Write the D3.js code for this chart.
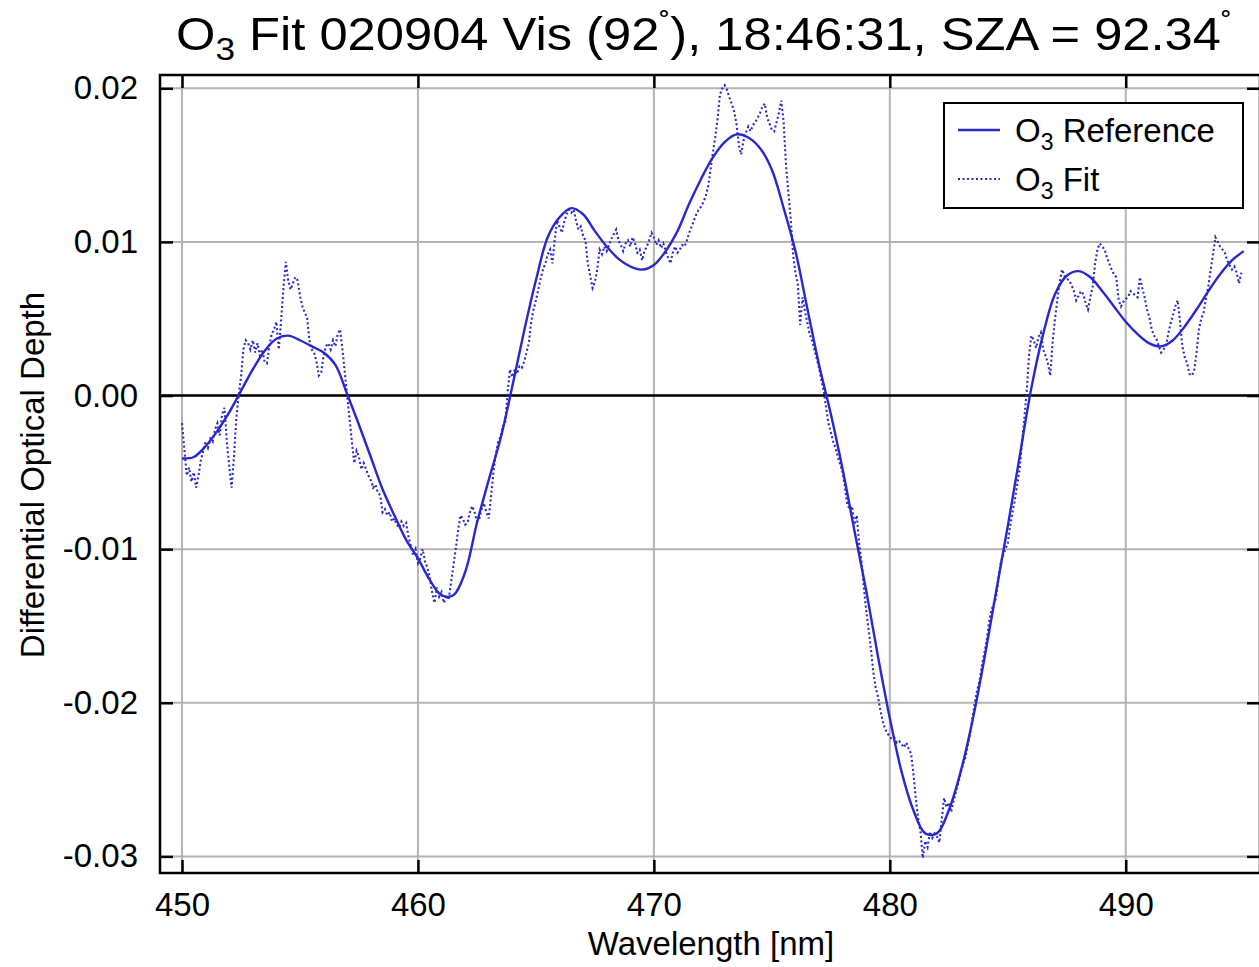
<!DOCTYPE html>
<html>
<head>
<meta charset="utf-8">
<script src="https://cdn.jsdelivr.net/npm/d3@7/dist/d3.min.js"></script>
<style>
  html, body { margin: 0; padding: 0; background: #fff; }
  svg { display: block; font-family: "Liberation Sans", Arial, Helvetica, sans-serif; }
</style>
</head>
<body>
<svg id="chart" width="1259" height="967"></svg>
<script>
// ---------------- data ----------------
const xTicks = [450, 460, 470, 480, 490];
const yTicks = [-0.03, -0.02, -0.01, 0.00, 0.01, 0.02];
const yTickLabels = ["-0.03", "-0.02", "-0.01", "0.00", "0.01", "0.02"];

// O3 reference (smooth), sampled every 0.5 nm
const refWavelength = [
  450.0,450.5,451.0,451.5,452.0,452.5,453.0,453.5,454.0,454.5,
  455.0,455.5,456.0,456.5,457.0,457.5,458.0,458.5,459.0,459.5,
  460.0,460.5,461.0,461.5,462.0,462.5,463.0,463.5,464.0,464.5,
  465.0,465.5,466.0,466.5,467.0,467.5,468.0,468.5,469.0,469.5,
  470.0,470.5,471.0,471.5,472.0,472.5,473.0,473.5,474.0,474.5,
  475.0,475.5,476.0,476.5,477.0,477.5,478.0,478.5,479.0,479.5,
  480.0,480.5,481.0,481.5,482.0,482.5,483.0,483.5,484.0,484.5,
  485.0,485.5,486.0,486.5,487.0,487.5,488.0,488.5,489.0,489.5,
  490.0,490.5,491.0,491.5,492.0,492.5,493.0,493.5,494.0,494.5,495.0];
const refValue = [
  -0.0041,-0.0040,-0.0033,-0.0023,-0.0011,0.0003,0.0017,0.0029,0.0037,0.0039,
  0.0036,0.0032,0.0028,0.0020,0.0001,-0.0019,-0.0040,-0.0061,-0.0078,-0.0094,
  -0.0106,-0.0120,-0.0130,-0.0130,-0.0115,-0.0083,-0.0055,-0.0028,0.0006,0.0042,
  0.0075,0.0103,0.0116,0.0122,0.0118,0.0107,0.0097,0.0089,0.0084,0.0082,
  0.0085,0.0094,0.0107,0.0125,0.0141,0.0155,0.0165,0.0170,0.0168,0.0161,
  0.0147,0.0122,0.0094,0.0057,0.0020,-0.0012,-0.0048,-0.0088,-0.0127,-0.0170,
  -0.0210,-0.0245,-0.0270,-0.0285,-0.0285,-0.0270,-0.0245,-0.0212,-0.0172,-0.0128,
  -0.0085,-0.0040,0.0005,0.0040,0.0066,0.0078,0.0081,0.0077,0.0068,0.0058,
  0.0048,0.0040,0.0034,0.0032,0.0036,0.0045,0.0056,0.0068,0.0079,0.0088,0.0094];

// O3 fit (noisy), sampled every 0.1 nm from 450.0 nm
const fitStart = 450.0;
const fitStep = 0.1;
const fitValue = [
  -0.0018,-0.0035,-0.0052,-0.0047,-0.0056,-0.0050,-0.0060,-0.0052,-0.0042,-0.0036,
  -0.0030,-0.0034,-0.0028,-0.0030,-0.0022,-0.0018,-0.0026,-0.0012,-0.0008,-0.0030,
  -0.0046,-0.0060,-0.0040,-0.0015,0.0000,0.0012,0.0030,0.0036,0.0034,0.0030,
  0.0036,0.0028,0.0034,0.0026,0.0030,0.0022,0.0021,0.0032,0.0040,0.0043,
  0.0048,0.0030,0.0049,0.0070,0.0087,0.0075,0.0069,0.0073,0.0077,0.0075,
  0.0065,0.0058,0.0054,0.0051,0.0036,0.0030,0.0028,0.0022,0.0013,0.0015,
  0.0026,0.0032,0.0034,0.0030,0.0036,0.0032,0.0040,0.0043,0.0030,0.0015,
  0.0000,-0.0015,-0.0030,-0.0044,-0.0036,-0.0040,-0.0048,-0.0044,-0.0048,-0.0052,
  -0.0055,-0.0060,-0.0058,-0.0063,-0.0065,-0.0076,-0.0074,-0.0078,-0.0076,-0.0082,
  -0.0080,-0.0084,-0.0086,-0.0082,-0.0085,-0.0083,-0.0092,-0.0098,-0.0104,-0.0100,
  -0.0109,-0.0106,-0.0100,-0.0108,-0.0112,-0.0118,-0.0128,-0.0135,-0.0125,-0.0131,
  -0.0128,-0.0135,-0.0130,-0.0133,-0.0122,-0.0111,-0.0100,-0.0088,-0.0078,-0.0080,
  -0.0084,-0.0083,-0.0076,-0.0072,-0.0076,-0.0082,-0.0080,-0.0074,-0.0070,-0.0076,
  -0.0080,-0.0065,-0.0050,-0.0038,-0.0030,-0.0027,-0.0020,-0.0018,0.0002,0.0017,
  0.0012,0.0017,0.0014,0.0019,0.0018,0.0022,0.0028,0.0034,0.0048,0.0056,
  0.0062,0.0069,0.0076,0.0082,0.0086,0.0092,0.0095,0.0086,0.0102,0.0114,
  0.0110,0.0106,0.0113,0.0118,0.0121,0.0119,0.0121,0.0114,0.0108,0.0110,
  0.0104,0.0101,0.0086,0.0078,0.0070,0.0074,0.0082,0.0095,0.0092,0.0097,
  0.0094,0.0098,0.0102,0.0105,0.0108,0.0101,0.0098,0.0094,0.0099,0.0101,
  0.0097,0.0103,0.0099,0.0093,0.0095,0.0088,0.0094,0.0097,0.0101,0.0106,
  0.0103,0.0098,0.0101,0.0096,0.0099,0.0094,0.0090,0.0086,0.0093,0.0097,
  0.0093,0.0095,0.0098,0.0097,0.0101,0.0106,0.0110,0.0114,0.0118,0.0121,
  0.0123,0.0126,0.0130,0.0136,0.0147,0.0158,0.0168,0.0180,0.0196,0.0200,
  0.0202,0.0199,0.0194,0.0190,0.0185,0.0177,0.0163,0.0157,0.0166,0.0171,
  0.0175,0.0172,0.0176,0.0178,0.0181,0.0184,0.0188,0.0190,0.0181,0.0177,
  0.0173,0.0172,0.0178,0.0184,0.0192,0.0178,0.0150,0.0132,0.0115,0.0092,
  0.0080,0.0073,0.0046,0.0064,0.0055,0.0048,0.0040,0.0036,0.0030,0.0024,
  0.0018,0.0010,0.0003,-0.0008,-0.0018,-0.0024,-0.0030,-0.0034,-0.0040,-0.0045,
  -0.0050,-0.0060,-0.0071,-0.0074,-0.0072,-0.0084,-0.0078,-0.0096,-0.0108,-0.0125,
  -0.0140,-0.0152,-0.0165,-0.0180,-0.0190,-0.0196,-0.0205,-0.0212,-0.0217,-0.0220,
  -0.0222,-0.0224,-0.0223,-0.0226,-0.0225,-0.0227,-0.0229,-0.0226,-0.0230,-0.0233,
  -0.0246,-0.0262,-0.0275,-0.0284,-0.0301,-0.0290,-0.0294,-0.0284,-0.0288,-0.0285,
  -0.0287,-0.0291,-0.0276,-0.0262,-0.0268,-0.0265,-0.0271,-0.0264,-0.0258,-0.0252,
  -0.0246,-0.0240,-0.0236,-0.0228,-0.0220,-0.0210,-0.0200,-0.0192,-0.0186,-0.0176,
  -0.0168,-0.0160,-0.0148,-0.0140,-0.0136,-0.0132,-0.0120,-0.0109,-0.0104,-0.0100,
  -0.0096,-0.0085,-0.0076,-0.0068,-0.0058,-0.0048,-0.0031,-0.0015,0.0002,0.0026,
  0.0039,0.0036,0.0031,0.0038,0.0041,0.0030,0.0026,0.0021,0.0013,0.0035,
  0.0050,0.0062,0.0074,0.0082,0.0078,0.0076,0.0075,0.0072,0.0068,0.0062,
  0.0065,0.0068,0.0066,0.0060,0.0056,0.0064,0.0071,0.0086,0.0095,0.0099,
  0.0097,0.0095,0.0090,0.0086,0.0082,0.0079,0.0077,0.0062,0.0058,0.0061,
  0.0063,0.0064,0.0068,0.0067,0.0065,0.0064,0.0077,0.0070,0.0064,0.0056,
  0.0051,0.0043,0.0039,0.0037,0.0032,0.0028,0.0030,0.0032,0.0040,0.0047,
  0.0052,0.0058,0.0062,0.0048,0.0032,0.0025,0.0021,0.0014,0.0013,0.0016,
  0.0028,0.0043,0.0050,0.0054,0.0063,0.0071,0.0082,0.0092,0.0103,0.0100,
  0.0097,0.0095,0.0093,0.0088,0.0085,0.0082,0.0084,0.0080,0.0073,0.0080];

const seriesNames = ["Reference", "Fit"];

// ---------------- layout ----------------
const frame = { left: 160, right: 1260, top: 75, bottom: 873 };
const blue = "#2828cc";

const x = d3.scaleLinear().domain([449.067, 495.69]).range([frame.left, frame.right]);
const y = d3.scaleLinear().domain([-0.03108, 0.020865]).range([frame.bottom, frame.top]);

const svg = d3.select("#chart");
const W = frame.right - frame.left, H = frame.bottom - frame.top;

svg.append("defs").append("clipPath").attr("id", "clip")
  .append("rect").attr("x", frame.left).attr("y", frame.top).attr("width", W).attr("height", H);

// grid
const grid = svg.append("g");
grid.selectAll("line.gx").data(xTicks).join("line")
  .attr("x1", d => x(d)).attr("x2", d => x(d))
  .attr("y1", frame.top).attr("y2", frame.bottom)
  .attr("stroke", "#b4b4b4").attr("stroke-width", 2);
grid.selectAll("line.gy").data(yTicks).join("line")
  .attr("x1", frame.left).attr("x2", frame.right)
  .attr("y1", d => y(d)).attr("y2", d => y(d))
  .attr("stroke", "#b4b4b4").attr("stroke-width", 2);

// zero line
svg.append("line")
  .attr("x1", frame.left).attr("x2", frame.right)
  .attr("y1", y(0)).attr("y2", y(0))
  .attr("stroke", "#000").attr("stroke-width", 2.5);

// axes
const tickLen = 13;
const fontSize = 33;
const axB = svg.append("g").attr("transform", `translate(0,${frame.bottom})`)
  .call(d3.axisBottom(x).tickValues(xTicks).tickSize(-tickLen).tickPadding(20).tickFormat(d3.format("d")));
const axT = svg.append("g").attr("transform", `translate(0,${frame.top})`)
  .call(d3.axisTop(x).tickValues(xTicks).tickSize(-tickLen).tickFormat(""));
const axL = svg.append("g").attr("transform", `translate(${frame.left},0)`)
  .call(d3.axisLeft(y).tickValues(yTicks).tickSize(-tickLen).tickPadding(22)
    .tickFormat((d, i) => yTickLabels[i]));
const axR = svg.append("g").attr("transform", `translate(${frame.right},0)`)
  .call(d3.axisRight(y).tickValues(yTicks).tickSize(-tickLen).tickFormat(""));
[axB, axT, axL, axR].forEach(a => {
  a.select(".domain").remove();
  a.selectAll(".tick line").attr("stroke", "#000").attr("stroke-width", 2.5);
  a.selectAll(".tick text").attr("fill", "#000")
    .style("font-size", fontSize + "px").style("font-family", '"Liberation Sans", Arial, sans-serif');
});

// curves
const plot = svg.append("g").attr("clip-path", "url(#clip)");
const refData = refWavelength.map((w, i) => [w, refValue[i]]);
const fitData = fitValue.map((v, i) => [fitStart + i * fitStep, v]);

plot.append("path").datum(fitData)
  .attr("fill", "none").attr("stroke", blue).attr("stroke-width", 2.1)
  .attr("stroke-dasharray", "2,2.5")
  .attr("d", d3.line().x(d => x(d[0])).y(d => y(d[1])));

plot.append("path").datum(refData)
  .attr("fill", "none").attr("stroke", blue).attr("stroke-width", 2.4)
  .attr("d", d3.line().curve(d3.curveCatmullRom.alpha(0.5)).x(d => x(d[0])).y(d => y(d[1])));

// frame
svg.append("rect")
  .attr("x", frame.left).attr("y", frame.top).attr("width", W).attr("height", H)
  .attr("fill", "none").attr("stroke", "#000").attr("stroke-width", 2.5);

// title
const title = svg.append("text")
  .attr("x", 704).attr("y", 50).attr("text-anchor", "middle")
  .style("font-size", "46px").attr("fill", "#000")
  .attr("textLength", 1056).attr("lengthAdjust", "spacingAndGlyphs");
title.append("tspan").text("O");
title.append("tspan").attr("dy", 10).style("font-size", "32px").text("3");
title.append("tspan").attr("dy", -10).text(" Fit 020904 Vis (92");
title.append("tspan").attr("dy", -16).style("font-size", "30px").text("˚");
title.append("tspan").attr("dy", 16).text("), 18:46:31, SZA = 92.34");
title.append("tspan").attr("dy", -16).style("font-size", "30px").text("˚");

// axis titles
svg.append("text")
  .attr("x", 711).attr("y", 955).attr("text-anchor", "middle")
  .style("font-size", fontSize + "px").attr("fill", "#000")
  .text("Wavelength [nm]");
svg.append("text")
  .attr("transform", "translate(44,475) rotate(-90)").attr("text-anchor", "middle")
  .style("font-size", fontSize + "px").attr("fill", "#000")
  .text("Differential Optical Depth");

// legend
const lg = svg.append("g");
lg.append("rect").attr("x", 944).attr("y", 103).attr("width", 299).attr("height", 105)
  .attr("fill", "#fff").attr("stroke", "#000").attr("stroke-width", 2);
const rows = [
  { name: seriesNames[0], y: 130, dash: null },
  { name: seriesNames[1], y: 179, dash: "2,2.5" }
];
rows.forEach(r => {
  lg.append("line").attr("x1", 958).attr("x2", 1000).attr("y1", r.y).attr("y2", r.y)
    .attr("stroke", blue).attr("stroke-width", r.dash ? 2.1 : 2.4)
    .attr("stroke-dasharray", r.dash);
  const t = lg.append("text").attr("x", 1015).attr("y", r.y + 12)
    .style("font-size", fontSize + "px").attr("fill", "#000");
  t.append("tspan").text("O");
  t.append("tspan").attr("dy", 8).style("font-size", "23px").text("3");
  t.append("tspan").attr("dy", -8).text(" " + r.name);
});
</script>
</body>
</html>
